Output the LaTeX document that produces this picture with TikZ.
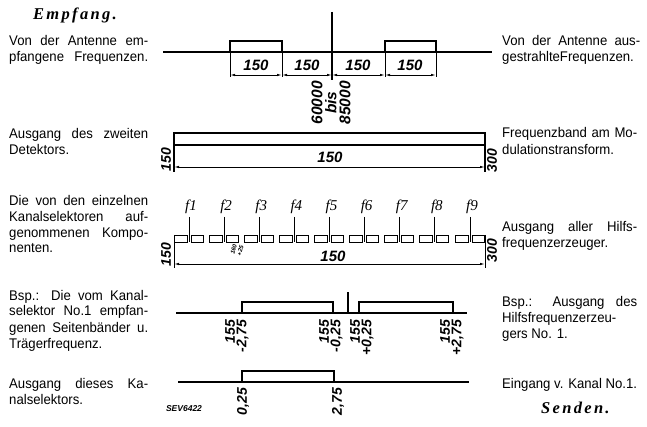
\documentclass[tikz,border=0pt]{standalone}
\usepackage{fontspec}
\setmainfont[FakeStretch=0.94]{Liberation Sans}
\newfontfamily\numfont{Liberation Sans}
\newfontfamily\seriffont{Liberation Serif}
\newfontfamily\headfont[LetterSpace=14]{Liberation Serif}
\usetikzlibrary{arrows.meta}
\newcommand\jtext[5]{\node[txt] (#1) at (#2,#3) {\makebox[#4pt][s]{#5}};}
\newcommand\ptext[4]{\node[txt] (#1) at (#2,#3) {#4};}
\begin{document}
\begin{tikzpicture}[x=1pt,y=-1pt,
  txt/.style={inner sep=0pt,anchor=base west,font=\fontsize{14}{15}\selectfont},
  num/.style={inner sep=0pt,font=\fontsize{15}{15}\numfont\bfseries\itshape},
  rnum/.style={inner sep=0pt,rotate=90,anchor=east,align=right,font=\fontsize{14}{11.5}\numfont\bfseries\itshape},
  head/.style={inner sep=0pt,anchor=base west,font=\fontsize{16.5}{16}\headfont\bfseries\itshape},
  flab/.style={inner sep=0pt,font=\fontsize{15}{15}\seriffont\itshape},
  heavy/.style={line width=1.4pt},
  thinl/.style={line width=0.9pt},
  dim/.style={line width=0.8pt,{Latex[length=5pt,width=2.4pt]}-{Latex[length=5pt,width=2.4pt]}}]
\fill[white] (0,0) rectangle (647,427);
\useasboundingbox (0,0) rectangle (647,427);

% ---------- texts left ----------
\node[head] (empf) at (33,20) {Empfang.};
\jtext{a1}{9}{46}{139}{Von der Antenne em-}
\jtext{a2}{9}{62}{139}{pfangene Frequenzen.}
\jtext{b1}{9}{139}{139}{Ausgang des zweiten}
\ptext{b2}{9}{155}{Detektors.}
\jtext{c1}{9}{206}{139}{Die von den einzelnen}
\jtext{c2}{9}{222}{139}{Kanalselektoren auf-}
\jtext{c3}{9}{237.5}{139}{genommenen Kompo-}
\ptext{c4}{9}{253}{nenten.}
\jtext{d1}{9}{300}{139}{Bsp.: Die vom Kanal-}
\jtext{d2}{9}{316}{139}{selektor No.1 empfan-}
\jtext{d3}{9}{332}{139}{genen Seitenbänder u.}
\ptext{d4}{9}{348}{Trägerfrequenz.}
\jtext{e1}{9}{388}{139}{Ausgang dieses Ka-}
\ptext{e2}{9}{404}{nalselektors.}

% ---------- texts right ----------
\jtext{ra1}{502}{46}{138}{Von der Antenne aus-}
\ptext{ra2}{502}{62}{gestrahlteFrequenzen.}
\jtext{rb1}{502}{138}{135}{Frequenzband am Mo-}
\ptext{rb2}{502}{155}{dulationstransform.}
\jtext{rc1}{502}{232}{135}{Ausgang aller Hilfs-}
\ptext{rc2}{502}{248}{frequenzerzeuger.}
\jtext{rd1}{502}{306}{135}{Bsp.: Ausgang des}
\ptext{rd2}{502}{322}{Hilfsfrequenzerzeu-}
\ptext{rd3}{502}{338}{gers No. 1.}
\ptext{re1}{502}{388}{Eingang v. Kanal No.1.}
\node[head] (send) at (541,413) {Senden.};

% ---------- row 1 ----------
\draw[heavy] (163,52) coordinate (r1a) -- (492,52) coordinate (r1b);
\draw[heavy] (332,12) coordinate (r1c) -- (332,80) coordinate (r1d);
\draw[heavy] (230,52) |- (282,41) -- (282,52);
\draw[heavy] (385,52) |- (436,41) -- (436,52);
\foreach \x in {230,282,385,436} \draw[thinl] (\x,52) -- (\x,77);
\foreach \a/\b in {230/282,282/332,332/385,385/436} \draw[dim] (\a,75) -- (\b,75);
\foreach \x/\n in {256/q1,307/q2,358/q3,410/q4} \node[num] (\n) at (\x,65) {150};
\node[rnum,align=center,font=\fontsize{15.5}{14}\numfont\bfseries\itshape] (freq) at (331,81) {60000\\bis\\85000};

% ---------- row 2 ----------
\draw[heavy] (174,172) -- (174,133) -- (485,133) -- (485,172);
\draw[heavy] (174,145) -- (485,145);
\draw[dim] (174,167) -- (485,167);
\node[num] (w2) at (330,157) {150};
\node[rnum] (w2l) at (166,148) {150};
\node[rnum] (w2r) at (492,149) {300};

% ---------- row 3 ----------
\foreach \i [evaluate=\i as \c using 189+35.125*(\i-1)] in {1,...,9} {
  \node[flab] (f\i) at (\c+2,207) {f\i};
  \draw[thinl] (\c,217) -- (\c,242);
  \draw[thinl] (\c-15,235) rectangle (\c-2,242);
  \draw[thinl] (\c+2,235) rectangle (\c+14,242);
}
\draw[thinl] (174,235) -- (174,268);
\draw[thinl] (485,235) -- (485,268);
\draw[dim] (174,264) -- (485,264);
\node[num] (w3) at (333,256) {150};
\node[rnum] (w3l) at (166,243) {150};
\node[rnum] (w3r) at (492,239) {300};
\node[inner sep=0pt,rotate=75,align=center,font=\fontsize{6}{7}\numfont\bfseries\itshape] (tiny) at (237,250) {160\\+25};

% ---------- row 4 ----------
\draw[heavy] (176,313) -- (467,313);
\draw[heavy] (242,313) |- (333,302) -- (333,313);
\draw[heavy] (359,313) |- (453,302) -- (453,313);
\draw[heavy] (348,292) -- (348,313);
\node[rnum] (s1) at (237,320) {155\\-2,75};
\node[rnum] (s2) at (331,320) {155\\-0,25};
\node[rnum] (s3) at (362,320) {155\\+0,25};
\node[rnum] (s4) at (452,320) {155\\+2,75};

% ---------- row 5 ----------
\draw[heavy] (178,382) -- (469,382);
\draw[heavy] (242,382) |- (334,371) -- (334,382);
\node[rnum] (t1) at (243,388) {0,25};
\node[rnum] (t2) at (338,388) {2,75};
\node[inner sep=0pt,font=\fontsize{8.5}{8.5}\numfont\bfseries\itshape] (sev) at (184,409) {SEV6422};
\end{tikzpicture}
\end{document}
